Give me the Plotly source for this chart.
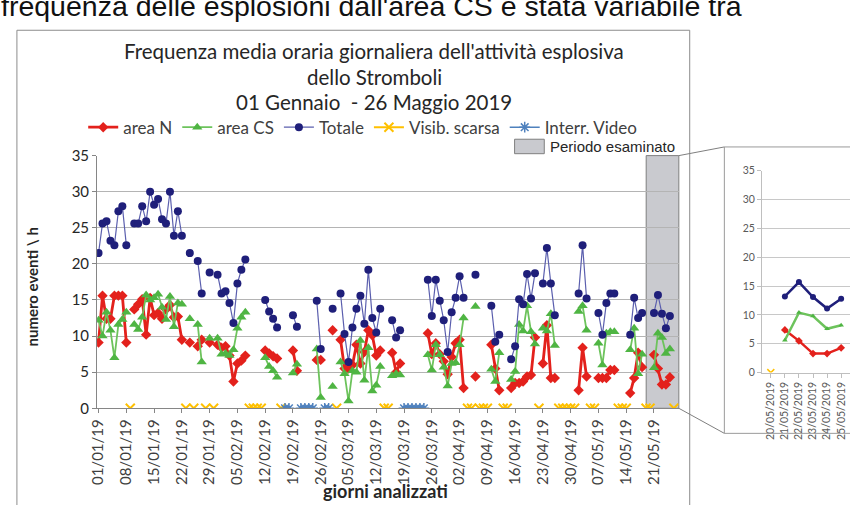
import pandas as pd
import plotly.graph_objects as go

W, H = 850, 505
def fx(x): return x / W
def fy(y): return (H - y) / H

# ---------------- data ----------------
dates = pd.date_range("2019-01-01", "2019-05-26", freq="D")
N = None

area_n = [
    9.1, 15.6, 12.4, 12.4, 15.6, 15.6, 15.6, 9.1, N, 13.7,
    14.4, 15.1, 10.2, 15.3, 12.9, 13.2, 12.4, 13.7, 14.3, 12.6,
    12.7, 9.5, N, 9.1, N, 8.6, 9.5, N, 9.1, N,
    8.8, 8.4, 8.6, 7.3, 3.7, 6.2, 6.6, 7.3, N, N,
    N, N, 8.0, 7.6, 7.2, 6.9, N, N, N, 8.0,
    5.2, N, N, N, N, 6.7, 6.7, N, N, 10.8,
    N, 9.5, 5.5, 5.5, 6.0, 8.8, 6.2, 7.8, 10.8, 10.1,
    7.3, 8.0, N, N, 7.7, 5.0, 6.2, N, N, N,
    N, N, N, 10.4, 7.5, 9.0, 7.5, 6.5, 4.7, 7.1,
    9.0, 9.5, 2.8, N, N, 4.4, N, N, N, 8.8,
    5.5, 2.5, N, N, 2.8, 3.5, 3.5, 3.7, 4.4, 4.6,
    9.8, N, 6.2, 11.5, 4.2, 4.2, N, N, N, N,
    N, 2.5, 8.4, 4.4, N, N, 4.2, 4.2, 4.2, 5.3,
    5.3, N, N, N, 2.1, 4.2, 7.7, 5.7, N, N,
    7.4, 5.5, 3.3, 3.3, 4.3, N,
]

area_cs = [
    12.2, 10.0, 13.3, 10.8, 7.0, 11.6, 12.3, 13.3, N, 11.6,
    10.9, 12.6, 15.7, 15.0, 15.3, 15.8, 14.0, 12.3, 15.5, 11.3,
    14.6, 14.4, N, 12.4, N, 11.6, 6.4, N, 9.7, N,
    9.7, 7.5, 7.6, 7.3, 8.1, 11.1, 12.6, 13.3, N, N,
    N, N, 7.0, 5.8, 5.2, 4.3, N, N, N, 4.9,
    6.1, N, N, N, N, 8.2, 1.5, N, N, 3.0,
    N, 6.4, 4.8, 1.0, 5.2, 5.0, 9.4, 3.9, 8.4, 2.4,
    3.2, 5.8, N, N, 4.5, 4.8, 4.6, N, N, N,
    N, N, N, 7.4, 5.3, 8.8, 7.4, 5.7, 3.1, 6.2,
    6.3, 8.8, 12.5, N, N, 14.1, N, N, N, 5.4,
    3.7, 7.7, N, N, 4.0, 5.1, 11.6, 10.7, 14.2, 10.6,
    8.9, N, 11.1, 10.7, 13.1, 8.7, N, N, N, N,
    N, 13.4, 14.2, 10.8, N, N, 9.0, 6.0, 10.4, 10.6,
    10.6, N, N, N, 8.1, 11.1, 4.8, 7.5, N, N,
    5.6, 10.4, 9.8, 7.6, 8.2, N,
]

totale = [
    21.5, 25.6, 25.9, 23.2, 22.6, 27.3, 28.0, 22.6, N, 25.6,
    25.6, 28.0, 25.9, 30.0, 28.2, 29.0, 26.2, 25.6, 30.0, 23.9,
    27.3, 23.9, N, 21.5, N, 20.4, 15.9, N, 18.8, N,
    18.5, 15.9, 16.2, 14.6, 11.8, 17.3, 19.2, 20.6, N, N,
    N, N, 15.0, 13.4, 12.4, 11.2, N, N, N, 12.9,
    11.3, N, N, N, N, 14.9, 8.2, N, N, 13.8,
    N, 15.9, 10.3, 6.4, 11.2, 13.8, 15.6, 11.7, 19.2, 12.5,
    10.5, 13.8, N, N, 12.2, 9.8, 10.8, N, N, N,
    N, N, N, 17.8, 12.8, 17.8, 14.9, 12.2, 7.8, 13.3,
    15.3, 18.3, 15.3, N, N, 18.5, N, N, N, 14.2,
    9.2, 10.2, N, N, 6.8, 8.6, 15.1, 14.4, 18.6, 15.2,
    18.7, N, 17.3, 22.2, 17.3, 12.9, N, N, N, N,
    N, 15.9, 22.6, 15.2, N, N, 13.2, 10.2, 14.6, 15.9,
    15.9, N, N, N, 10.2, 15.3, 12.5, 13.2, N, N,
    13.2, 15.7, 13.1, 11.1, 12.8, N,
]

visib_scarsa_dates = [
    "2019-01-09", "2019-01-23", "2019-01-25", "2019-01-28", "2019-01-30",
    "2019-02-08", "2019-02-09", "2019-02-10", "2019-02-11", "2019-02-16",
    "2019-03-02", "2019-03-14", "2019-03-15",
    "2019-04-04", "2019-04-05", "2019-04-07", "2019-04-08", "2019-04-09",
    "2019-04-13", "2019-04-14", "2019-04-22",
    "2019-04-27", "2019-04-28", "2019-04-29", "2019-04-30", "2019-05-01",
    "2019-05-05", "2019-05-06", "2019-05-12", "2019-05-13", "2019-05-14",
    "2019-05-19", "2019-05-20", "2019-05-26",
]
interr_video_dates = [
    "2019-02-17", "2019-02-18", "2019-02-21", "2019-02-22", "2019-02-23",
    "2019-02-24", "2019-02-27", "2019-02-28",
    "2019-03-19", "2019-03-20", "2019-03-21", "2019-03-22", "2019-03-23",
    "2019-03-24",
]
periodo_esaminato = ("2019-05-20", "2019-05-25")

vis_set = set(pd.to_datetime(visib_scarsa_dates))
vid_set = set(pd.to_datetime(interr_video_dates))
visib = [0 if d in vis_set else None for d in dates]
video = [0 if d in vid_set else None for d in dates]

# ---------------- figure ----------------
RED, GREEN, GREEN_L, NAVY, NAVY_L, YEL, BLUE = (
    "#e3211c", "#4fb543", "#6dc35c", "#1f1f7a", "#5b5fae", "#ffc000", "#4f81bd")

fig = go.Figure()

main_styles = [
    ("area N", area_n, dict(color=RED, width=2.8), dict(symbol="diamond", size=8, color=RED)),
    ("area CS", area_cs, dict(color=GREEN_L, width=1.8), dict(symbol="triangle-up", size=9, color=GREEN)),
    ("Totale", totale, dict(color=NAVY_L, width=1.2), dict(symbol="circle", size=8, color=NAVY)),
    ("Visib. scarsa", visib, dict(color=YEL, width=2), dict(symbol="x-thin-open", size=9, color=YEL, line=dict(width=2, color=YEL))),
    ("Interr. Video", video, dict(color=BLUE, width=1.5), dict(symbol="asterisk-open", size=9, color=BLUE, line=dict(width=1.5, color=BLUE))),
]
for name, ys, ln, mk in main_styles:
    fig.add_trace(go.Scatter(x=dates, y=ys, name=name, mode="lines+markers",
                             line=ln, marker=mk, connectgaps=False,
                             xaxis="x", yaxis="y"))

# inset traces (period examined)
mask = (dates >= pd.Timestamp(periodo_esaminato[0])) & (dates <= pd.Timestamp(periodo_esaminato[1]))
idx = [i for i, m in enumerate(mask) if m]
ins_dates = [dates[i] for i in idx]
inset_styles = [
    (area_n, dict(color=RED, width=2.5), dict(symbol="diamond", size=6, color=RED)),
    (area_cs, dict(color=GREEN_L, width=2.5), dict(symbol="triangle-up", size=5, color=GREEN)),
    (totale, dict(color=NAVY, width=2.5), dict(symbol="circle", size=6, color=NAVY)),
    (visib, dict(color=YEL, width=2), dict(symbol="x-thin-open", size=7, color=YEL, line=dict(width=1.5, color=YEL))),
]
for ys, ln, mk in inset_styles:
    fig.add_trace(go.Scatter(x=ins_dates, y=[ys[i] for i in idx], mode="lines+markers",
                             line=ln, marker=mk, showlegend=False,
                             xaxis="x2", yaxis="y2"))

DAY = 86400000
x0 = dates[0] - pd.Timedelta(days=0.374)
x1 = dates[0] + pd.Timedelta(days=146.26)
ix0 = pd.Timestamp(periodo_esaminato[0]) - pd.Timedelta(days=0.63)
ix1 = pd.Timestamp(periodo_esaminato[1]) + pd.Timedelta(days=0.63)

TICKFONT = dict(family="Lato", size=15, color="#404040")

fig.update_layout(
    width=W, height=H, margin=dict(l=0, r=0, t=0, b=0),
    paper_bgcolor="white", plot_bgcolor="white",
    showlegend=True,
    legend=dict(orientation="h", x=fx(75), y=fy(122), xanchor="left", yanchor="middle",
                font=dict(family="Lato", size=17, color="#404040"),
                bgcolor="rgba(0,0,0,0)", itemwidth=30),
    xaxis=dict(domain=[fx(89), fx(677)], type="date", range=[x0, x1],
               tick0="2019-01-01", dtick=7 * DAY, tickformat="%d/%m/%y",
               tickangle=-90, tickfont=TICKFONT, showgrid=False,
               showline=True, linecolor="#868686", linewidth=1,
               ticks="outside", ticklen=4, tickcolor="#868686"),
    yaxis=dict(domain=[fy(413), fy(151)], range=[0, 35], tick0=0, dtick=5,
               tickfont=dict(family="Lato", size=15, color="#262626"),
               showgrid=True, gridcolor="#b4b4b4", gridwidth=1, zeroline=False,
               showline=True, linecolor="#868686", linewidth=1,
               ticks="outside", ticklen=4, tickcolor="#868686"),
    xaxis2=dict(domain=[fx(761), 1.0], type="date", range=[ix0, ix1], anchor="y2",
                dtick=DAY, tickformat="%d/%m/%Y", tickangle=-90,
                tickfont=dict(family="Lato", size=10.5, color="#595959"),
                showgrid=False, showline=True, linecolor="#bfbfbf",
                ticks="outside", ticklen=4, tickcolor="#bfbfbf"),
    yaxis2=dict(domain=[fy(376), fy(166.7)], range=[0, 35], dtick=5, anchor="x2",
                tickfont=dict(family="Lato", size=10.5, color="#595959"),
                showgrid=True, gridcolor="#c8c8c8", zeroline=False,
                showline=True, linecolor="#bfbfbf",
                ticks="outside", ticklen=4, tickcolor="#bfbfbf"),
)

shapes = [
    # chart frame
    dict(type="rect", xref="paper", yref="paper", x0=fx(8), x1=fx(688), y0=fy(515), y1=fy(21),
         line=dict(color="#8c8c8c", width=1), fillcolor="rgba(0,0,0,0)", layer="below"),
    # shaded examined period
    dict(type="rect", xref="paper", yref="paper", x0=fx(644), x1=fx(677), y0=fy(413), y1=fy(151),
         line=dict(color="#7f7f7f", width=1), fillcolor="#c9cacf", layer="below"),
    # legend swatch for examined period
    dict(type="rect", xref="paper", yref="paper", x0=fx(511), x1=fx(541), y0=fy(149), y1=fy(134),
         line=dict(color="#7f7f7f", width=1), fillcolor="#c9cacf"),
    # connectors
    dict(type="line", xref="paper", yref="paper", x0=fx(677), y0=fy(151), x1=fx(723), y1=fy(142),
         line=dict(color="#7f7f7f", width=1)),
    dict(type="line", xref="paper", yref="paper", x0=fx(677), y0=fy(413), x1=fx(723), y1=fy(439),
         line=dict(color="#7f7f7f", width=1)),
    # inset box
    dict(type="rect", xref="paper", yref="paper", x0=fx(723), x1=fx(870), y0=fy(439), y1=fy(142),
         line=dict(color="#9a9a9a", width=1), fillcolor="rgba(0,0,0,0)"),
]
fig.update_layout(shapes=shapes)

ann = [
    dict(text="frequenza delle esplosioni dall'area CS è stata variabile tra",
         x=fx(-10), y=fy(15), xanchor="left", yanchor="bottom",
         font=dict(family="Liberation Sans", size=28.5, color="#111111")),
    dict(text="Frequenza media oraria giornaliera dell'attività esplosiva",
         x=fx(369), y=fy(43), xanchor="center", yanchor="middle",
         font=dict(family="Lato", size=20.5, color="#262626")),
    dict(text="dello Stromboli", x=fx(369), y=fy(69), xanchor="center", yanchor="middle",
         font=dict(family="Lato", size=20.5, color="#262626")),
    dict(text="01 Gennaio\u00a0 - 26 Maggio 2019", x=fx(369), y=fy(95), xanchor="center", yanchor="middle",
         font=dict(family="Lato", size=20.5, color="#262626")),
    dict(text="<b>numero eventi \\ h</b>", x=fx(23), y=fy(287), textangle=-90,
         xanchor="center", yanchor="middle",
         font=dict(family="Lato", size=15, color="#262626")),
    dict(text="<b>giorni analizzati</b>", x=fx(381), y=fy(499), xanchor="center", yanchor="middle",
         font=dict(family="Lato", size=18, color="#262626")),
    dict(text="Periodo esaminato", x=fx(545), y=fy(141.5), xanchor="left", yanchor="middle",
         font=dict(family="Liberation Sans", size=15, color="#262626")),
]
for a in ann:
    a.update(xref="paper", yref="paper", showarrow=False)
fig.update_layout(annotations=ann)

fig.write_html("out.html", config={"displayModeBar": False},
               post_script="document.body.style.margin='0px';")
